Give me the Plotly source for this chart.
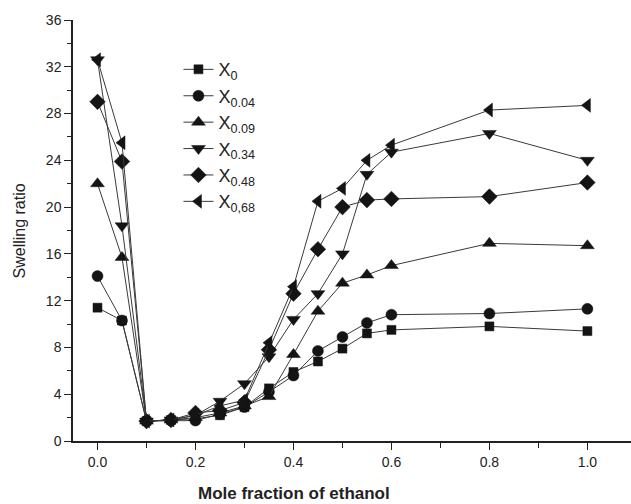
import plotly.graph_objects as go

# Mole fraction of ethanol in the swelling medium
ethanol = [0.0, 0.05, 0.1, 0.15, 0.2, 0.25, 0.3, 0.35, 0.4, 0.45, 0.5, 0.55, 0.6, 0.8, 1.0]

# Swelling ratio for each gel composition
x_0 = [11.4, 10.3, 1.7, 1.8, 1.9, 2.2, 2.9, 4.5, 5.9, 6.8, 7.9, 9.2, 9.5, 9.8, 9.4]
x_004 = [14.1, 10.3, 1.7, 1.75, 1.75, 2.3, 2.9, 4.2, 5.6, 7.7, 8.9, 10.1, 10.8, 10.9, 11.3]
x_009 = [22.0, 15.7, 1.7, 1.8, 2.0, 2.4, 3.0, 3.8, 7.4, 11.1, 13.5, 14.2, 15.0, 16.9, 16.7]
x_034 = [32.6, 18.4, 1.7, 1.8, 2.2, 3.4, 4.9, 7.2, 10.4, 12.6, 16.0, 22.8, 24.7, 26.3, 24.0]
x_048 = [29.0, 23.9, 1.7, 1.8, 2.4, 2.6, 3.3, 7.8, 12.6, 16.4, 20.0, 20.6, 20.7, 20.9, 22.1]
x_068 = [32.6, 25.5, 1.7, 1.8, 2.2, 3.0, 3.5, 8.4, 13.2, 20.5, 21.6, 24.0, 25.3, 28.3, 28.7]

series_labels = ["X<sub>0</sub>", "X<sub>0.04</sub>", "X<sub>0.09</sub>",
                 "X<sub>0.34</sub>", "X<sub>0.48</sub>", "X<sub>0,68</sub>"]
series_values = [x_0, x_004, x_009, x_034, x_048, x_068]
symbols = ["square", "circle", "triangle-up", "triangle-down", "diamond", "triangle-left"]
sizes = [9, 11, 12, 12, 12, 12]

x_tick_vals = [0.0, 0.2, 0.4, 0.6, 0.8, 1.0]
x_tick_text = ["0.0", "0.2", "0.4", "0.6", "0.8", "1.0"]
y_tick_vals = [0, 4, 8, 12, 16, 20, 24, 28, 32, 36]

FONT = "Liberation Sans, Arial, sans-serif"
INK = "#222222"

fig = go.Figure()
for i, (label, vals, sym, sz) in enumerate(zip(series_labels, series_values, symbols, sizes)):
    fig.add_trace(go.Scatter(
        x=ethanol, y=vals, name=label, mode="lines+markers",
        legendgroup=f"g{i}",
        line=dict(color="#3a3a3a", width=1),
        marker=dict(symbol=sym, size=sz, color="#141414",
                    line=dict(color="#141414", width=0.5)),
    ))

axis_common = dict(
    showgrid=False, zeroline=False, showline=True, linecolor=INK, linewidth=1.5,
    ticks="outside", ticklen=7, tickwidth=1.2, tickcolor=INK,
    tickfont=dict(family=FONT, size=14, color=INK),
)

fig.update_layout(
    width=631, height=504,
    margin=dict(l=73, r=0, t=20, b=63),
    paper_bgcolor="white", plot_bgcolor="white",
    showlegend=True,
    legend=dict(
        x=0.189, y=0.926, xanchor="left", yanchor="top",
        bgcolor="rgba(0,0,0,0)", borderwidth=0,
        font=dict(family=FONT, size=18, color=INK),
        tracegroupgap=0, itemwidth=30,
    ),
    xaxis=dict(
        range=[-0.05, 1.089], tickvals=x_tick_vals, ticktext=x_tick_text,
        minor=dict(dtick=0.1, tick0=0, ticks="outside", ticklen=5,
                   tickwidth=1.2, tickcolor=INK),
        **axis_common,
    ),
    yaxis=dict(
        range=[0, 36], tickvals=y_tick_vals,
        minor=dict(dtick=2, tick0=0, ticks="outside", ticklen=4,
                   tickwidth=1.2, tickcolor=INK),
        **axis_common,
    ),
    annotations=[
        dict(text="<b>Mole fraction of ethanol</b>", xref="paper", yref="paper",
             x=(294 - 73) / 558, y=-0.125, xanchor="center", yanchor="middle",
             showarrow=False, font=dict(family=FONT, size=17, color=INK)),
        dict(text="Swelling ratio", xref="paper", yref="paper",
             x=-0.095, y=0.5, xanchor="center", yanchor="middle", textangle=-90,
             showarrow=False, font=dict(family=FONT, size=16, color=INK)),
    ],
)

fig.write_html("out.html")
